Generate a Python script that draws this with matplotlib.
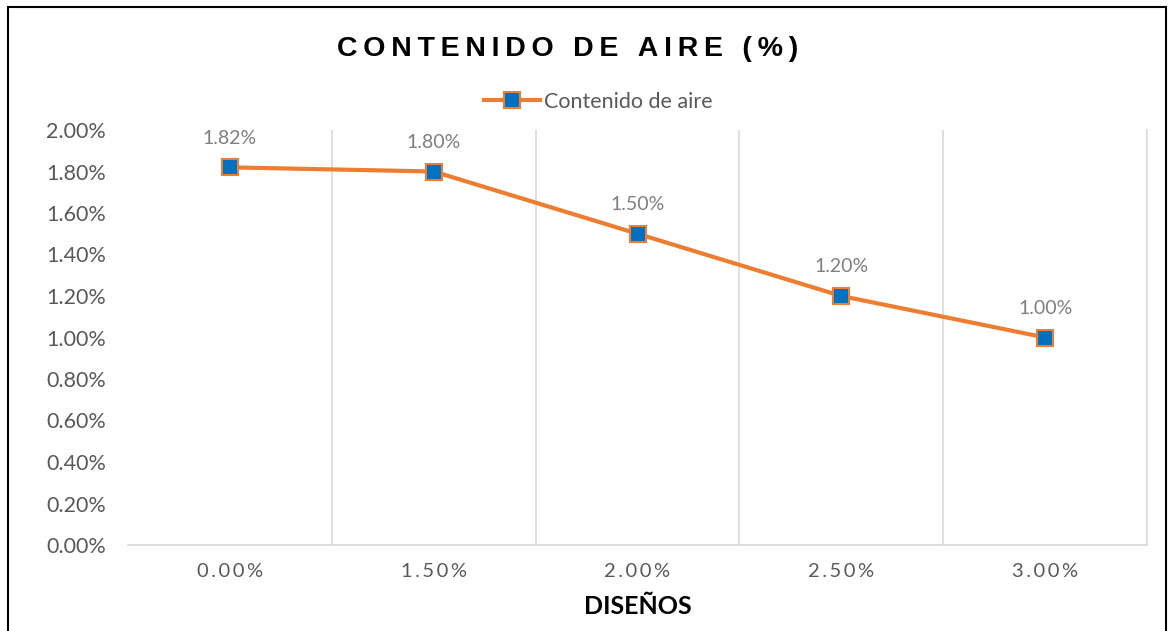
import matplotlib.pyplot as plt
from matplotlib.patches import Rectangle
from matplotlib.ticker import FuncFormatter

# data
disenos = ["0.00%", "1.50%", "2.00%", "2.50%", "3.00%"]
aire = [1.82, 1.80, 1.50, 1.20, 1.00]  # %
y_ticks = [0.0, 0.2, 0.4, 0.6, 0.8, 1.0, 1.2, 1.4, 1.6, 1.8, 2.0]

ORANGE = "#ED7D31"
BLUE = "#0070C0"
GREY = "#595959"
FONT = ["Lato", "DejaVu Sans"]


def spaced(s, sep="\u2009"):
    return sep.join(s)


fig = plt.figure(figsize=(11.69, 6.31), dpi=100)
fig.patch.set_facecolor("white")
fig.add_artist(Rectangle((8 / 1169, -0.01), 1158 / 1169, 1 - 7 / 631 + 0.01,
                         transform=fig.transFigure, fill=False,
                         edgecolor="black", linewidth=1.5))

ax = fig.add_axes([128 / 1169, 1 - 545 / 631, (1147 - 128) / 1169, (545 - 130) / 631])
x = list(range(len(disenos)))
ax.plot(x, aire, color=ORANGE, linewidth=3, marker="s", markersize=12,
        markerfacecolor=BLUE, markeredgecolor=ORANGE, markeredgewidth=1.5,
        label="Contenido de aire", zorder=3)

for xi, v in zip(x, aire):
    ax.annotate(f"{v:.2f}%", (xi, v), xytext=(0, 21), textcoords="offset points",
                ha="center", va="center", color="#7F7F7F", fontsize=14, family=FONT)

ax.set_xlim(-0.5, len(disenos) - 0.5)
ax.set_ylim(0, 2.0)
ax.set_yticks(y_ticks)
ax.yaxis.set_major_formatter(FuncFormatter(lambda v, p: f"{v:.2f}%"))
ax.set_xticks(x)
ax.set_xticklabels([spaced(d) for d in disenos], family=FONT)
ax.set_xticks([i + 0.5 for i in x[:-1]], minor=True)
ax.grid(True, which="minor", axis="x", color="#D9D9D9", linewidth=1.2)
ax.tick_params(axis="both", which="both", length=0, colors=GREY)
ax.tick_params(axis="x", labelsize=14.5, pad=13)
ax.tick_params(axis="y", labelsize=15.5, pad=16)
for lab in ax.get_yticklabels():
    lab.set_family(FONT)

for side in ["top", "left"]:
    ax.spines[side].set_visible(False)
ax.spines["right"].set_color("#D9D9D9")
ax.spines["bottom"].set_color("#D9D9D9")
ax.spines["right"].set_linewidth(1.2)
ax.spines["bottom"].set_linewidth(1.2)

ax.set_xlabel("DISEÑOS", fontsize=18, fontweight="bold", family=FONT, labelpad=11)

fig.text(568 / 1169, 1 - 49 / 631, spaced("CONTENIDO DE AIRE (%)", "\u2009"),
         ha="center", va="center", fontsize=20.5, fontweight="bold",
         family=["Liberation Sans", "DejaVu Sans"])

leg = ax.legend(loc="center", bbox_to_anchor=(598 / 1169, 1 - 102 / 631),
                bbox_transform=fig.transFigure, frameon=False,
                prop={"family": FONT, "size": 15.5}, handlelength=2.6, handletextpad=0.2)
for t in leg.get_texts():
    t.set_color(GREY)

fig.savefig("out.png", dpi=100)
